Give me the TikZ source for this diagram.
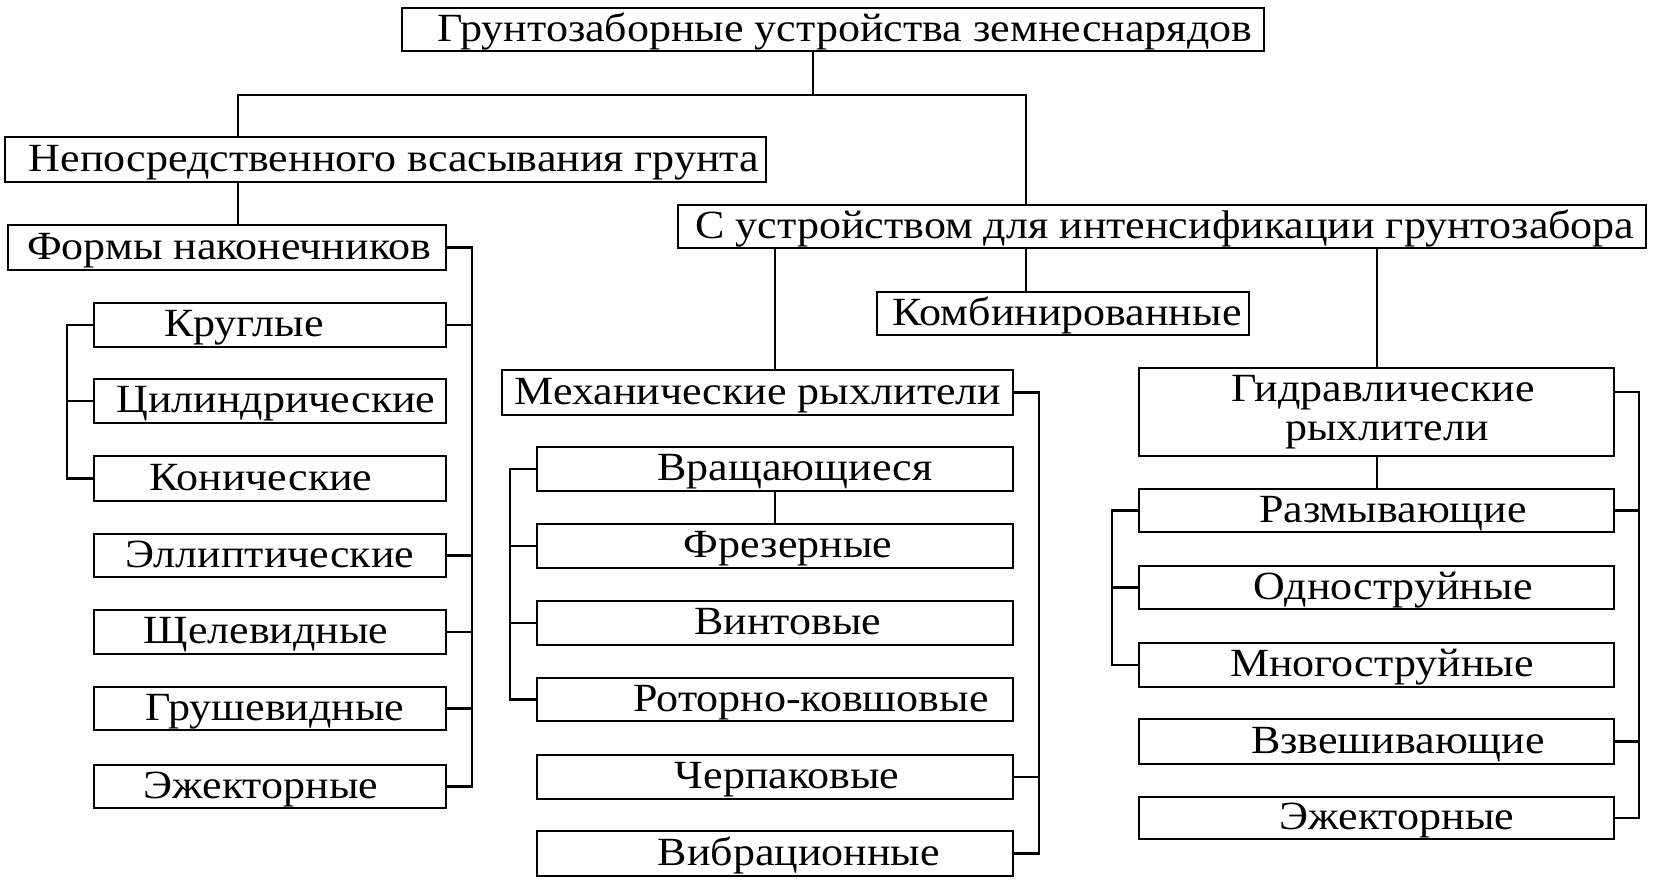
\documentclass[tikz,border=0pt]{standalone}
\usepackage{fontspec}
\setmainfont[FakeStretch=1.1]{Liberation Serif}
\begin{document}
\begin{tikzpicture}[x=0.5pt,y=-0.5pt,
  boxst/.style={draw, line width=1.4pt, inner sep=0pt, outer sep=0pt},
  txt/.style={inner sep=0pt, outer sep=0pt, text height=13.1pt, text depth=0pt, font=\fontsize{20}{20}\selectfont},
  ln/.style={line width=1.2pt}]
\useasboundingbox (0,0) rectangle (1654,885);
\newcommand{\bx}[7]{%
  \node[boxst, minimum width={(#4-#2)*0.5pt}, minimum height={(#5-#3)*0.5pt}] (#1) at ({(#2+#4)/2},{(#3+#5)/2}) {};
  \node[txt] (#1t) at (#6,{(#3+#5)/2-1.5}) {#7};}
\bx{T}{402}{8}{1264}{51}{845}{Грунтозаборные устройства земнеснарядов}
\bx{N}{5}{137}{766}{182}{394}{Непосредственного всасывания грунта}
\bx{F}{8}{225}{446}{270}{229}{Формы наконечников}
\bx{K1}{94}{303}{446}{347}{244}{Круглые}
\bx{K2}{94}{379}{446}{423}{276}{Цилиндрические}
\bx{K3}{94}{456}{446}{501}{261}{Конические}
\bx{K4}{94}{534}{446}{577}{270}{Эллиптические}
\bx{K5}{94}{610}{446}{654}{266}{Щелевидные}
\bx{K6}{94}{687}{446}{730}{275}{Грушевидные}
\bx{K7}{94}{765}{446}{808}{261}{Эжекторные}
\bx{S}{678}{205}{1646}{248}{1165}{С устройством для интенсификации грунтозабора}
\bx{Kom}{877}{292}{1249}{335}{1067}{Комбинированные}
\bx{M}{502}{370}{1013}{415}{758}{Механические рыхлители}
\bx{M1}{537}{447}{1013}{491}{795}{Вращающиеся}
\bx{M2}{537}{524}{1013}{568}{788}{Фрезерные}
\bx{M3}{537}{601}{1013}{645}{788}{Винтовые}
\bx{M4}{537}{678}{1013}{721}{811}{Роторно-ковшовые}
\bx{M5}{537}{755}{1013}{799}{787}{Черпаковые}
\bx{M6}{537}{831}{1013}{876}{799}{Вибрационные}
\node[boxst, minimum width={(1614-1139)*0.5pt}, minimum height={(456-368)*0.5pt}] (G) at ({(1139+1614)/2},{(368+456)/2}) {};
\node[txt] (Gt1) at (1383,388) {Гидравлические};
\node[txt] (Gt2) at (1387,427) {рыхлители};
\bx{H1}{1139}{489}{1614}{532}{1393}{Размывающие}
\bx{H2}{1139}{566}{1614}{609}{1393}{Одноструйные}
\bx{H3}{1139}{643}{1614}{687}{1382}{Многоструйные}
\bx{H4}{1139}{719}{1614}{764}{1398}{Взвешивающие}
\bx{H5}{1139}{797}{1614}{839}{1397}{Эжекторные}
% junctions
\coordinate (j1) at (813,95);
\coordinate (jl) at (238,95);
\coordinate (jr) at (1026,95);
\coordinate (fb) at (472,0);
\coordinate (lb) at (67,0);
\coordinate (sm) at (775,0);
\coordinate (sg) at (1377,0);
\coordinate (mb) at (1039,0);
\coordinate (ml) at (510,0);
\coordinate (gb) at (1639,392);
\coordinate (hl) at (1112,0);
% connectors
\draw[ln] (T.south -| j1) -- (j1);
\draw[ln] (N.north -| jl) -- (jl) -- (jr) -- (S.north -| jr);
\draw[ln] (N.south -| jl) -- (F.north -| jl);
\draw[ln] (F.east) -- (F.east -| fb) -- (K7.east -| fb) -- (K7.east);
\foreach \k in {K1,K4,K5,K6} \draw[ln] (\k.east) -- (\k.east -| fb);
\draw[ln] (K1.west) -- (K1.west -| lb) -- (K3.west -| lb) -- (K3.west);
\draw[ln] (K2.west) -- (K2.west -| lb);
\draw[ln] (S.south -| sm) -- (M.north -| sm);
\draw[ln] (S.south -| jr) -- (Kom.north -| jr);
\draw[ln] (S.south -| sg) -- (G.north -| sg);
\draw[ln] (M.east) -- (M.east -| mb) -- (M6.east -| mb) -- (M6.east);
\draw[ln] (M5.east) -- (M5.east -| mb);
\draw[ln] (M1.west) -- (M1.west -| ml) -- (M4.west -| ml) -- (M4.west);
\foreach \k in {M2,M3} \draw[ln] (\k.west) -- (\k.west -| ml);
\draw[ln] (M1.south -| sm) -- (M2.north -| sm);
\draw[ln] (G.south -| sg) -- (H1.north -| sg);
\draw[ln] (gb -| G.east) -- (gb) -- (H5.east -| gb) -- (H5.east);
\foreach \k in {H1,H4} \draw[ln] (\k.east) -- (\k.east -| gb);
\draw[ln] (H1.west) -- (H1.west -| hl) -- (H3.west -| hl) -- (H3.west);
\draw[ln] (H2.west) -- (H2.west -| hl);
\end{tikzpicture}
\end{document}
